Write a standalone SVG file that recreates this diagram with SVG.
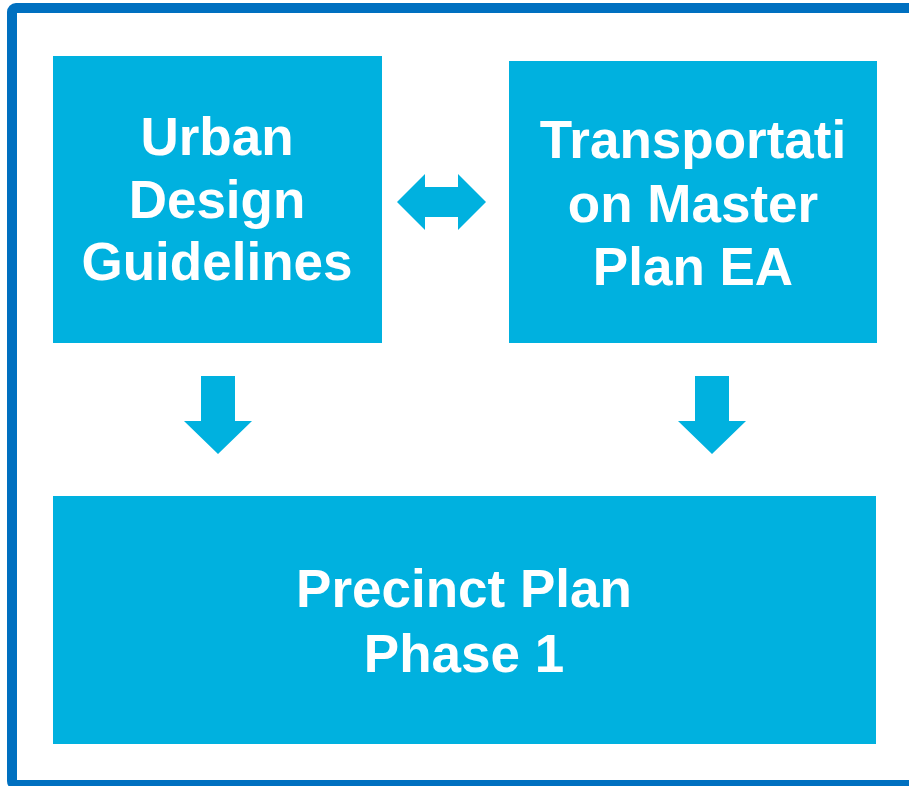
<svg xmlns="http://www.w3.org/2000/svg" width="909" height="786" viewBox="0 0 909 786">
<style>
.box{fill:#00B1DF}
.arr{fill:#00B1DF}
.t{font-family:"Liberation Sans",Arial,sans-serif;font-weight:bold;font-size:53px;fill:#FFFFFF;text-anchor:middle}
</style>
<rect x="0" y="0" width="909" height="786" fill="#FFFFFF"/>
<rect id="frame" x="12" y="8" width="910" height="777" rx="4" fill="none" stroke="#0070C0" stroke-width="10"/>
<g id="urban">
<rect class="box" x="53" y="56" width="329" height="287"/>
<text class="t" x="217" y="155">Urban</text>
<text class="t" x="217" y="218">Design</text>
<text class="t" x="217" y="280">Guidelines</text>
</g>
<g id="transport">
<rect class="box" x="509" y="61" width="368" height="282"/>
<text class="t" x="693" y="158">Transportati</text>
<text class="t" x="693" y="222">on Master</text>
<text class="t" x="693" y="285">Plan EA</text>
</g>
<g id="precinct">
<rect class="box" x="53" y="496" width="823" height="248"/>
<text class="t" x="464" y="607">Precinct Plan</text>
<text class="t" x="464" y="672">Phase 1</text>
</g>
<g id="connectors">
<polygon class="arr" points="397,202 425,174 425,187 458,187 458,174 486,202 458,230 458,217 425,217 425,230"/>
<polygon class="arr" points="201,376 235,376 235,421 252,421 218,454 184,421 201,421"/>
<polygon class="arr" points="695,376 729,376 729,421 746,421 712,454 678,421 695,421"/>
</g>
</svg>
